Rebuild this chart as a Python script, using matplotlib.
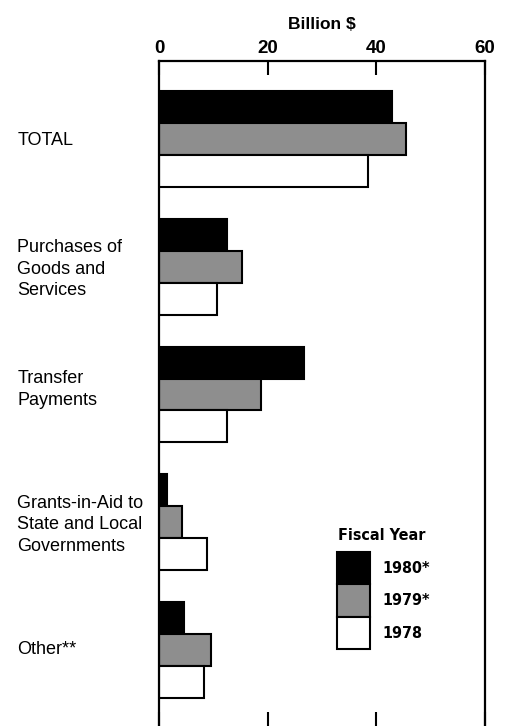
import numpy as np
import matplotlib.pyplot as plt
from matplotlib.patches import Patch

# data (billion $)
categories = ["TOTAL", "Purchases of\nGoods and\nServices", "Transfer\nPayments",
              "Grants-in-Aid to\nState and Local\nGovernments", "Other**"]
fy1980 = [42.8, 12.5, 26.6, 1.4, 4.6]
fy1979 = [45.5, 15.2, 18.7, 4.2, 9.5]
fy1978 = [38.5, 10.6, 12.6, 8.8, 8.3]
years = ["1980*", "1979*", "1978"]
x_ticks = [0, 20, 40, 60]

plt.rcParams['font.family'] = ['Liberation Sans', 'DejaVu Sans']

fig = plt.figure(figsize=(5.07, 7.26), dpi=100)
ax = fig.add_axes([0.3136, 0.0, 0.643, 0.916])

y = np.arange(len(categories))
h = 0.25
kw = dict(height=h, edgecolor='black', linewidth=1.5)
ax.barh(y - h, fy1980, color='black', **kw)
ax.barh(y, fy1979, color='#8e8e8e', **kw)
ax.barh(y + h, fy1978, color='white', **kw)

ax.set_xlim(0, 60)
ax.set_ylim(4.596, -0.612)
ax.set_yticks([])
ax.set_xticks(x_ticks)
ax.xaxis.tick_top()
ax.tick_params(axis='x', which='both', top=True, bottom=True, direction='in',
               length=10, width=1.5, labeltop=True, labelbottom=False,
               labelsize=13.5, pad=3)
for lab in ax.get_xticklabels():
    lab.set_fontweight('bold')
ax.set_xlabel("Billion $", fontsize=12.5, fontweight='bold', labelpad=8)
ax.xaxis.set_label_position('top')

for s in ['left', 'right', 'top']:
    ax.spines[s].set_linewidth(1.6)
ax.spines['bottom'].set_visible(False)

# category labels at the left
offsets = [0.01, 0.02, -0.04, 0.02, 0.0]
for yi, name, off in zip(y, categories, offsets):
    ax.text(-0.435, yi + off, name, fontsize=13, ha='left', va='center',
            linespacing=1.35, transform=ax.get_yaxis_transform())

# legend: title as separate text so the gap matches
legfont = {'family': 'DejaVu Sans', 'stretch': 'condensed', 'weight': 'bold', 'size': 11.5}
handles = [Patch(facecolor='black', edgecolor='black', linewidth=1.5),
           Patch(facecolor='#8e8e8e', edgecolor='black', linewidth=1.5),
           Patch(facecolor='white', edgecolor='black', linewidth=1.5)]
ax.legend(handles, years, frameon=False,
          loc='upper left', bbox_to_anchor=(0.52, 0.2737),
          prop=legfont, handlelength=2.1, handleheight=2.75, labelspacing=0,
          handletextpad=0.8, borderpad=0)
ax.text(0.684, 0.2867, "Fiscal Year", transform=ax.transAxes,
        ha='center', va='center', fontproperties=legfont)

fig.savefig("out.png", dpi=100)
